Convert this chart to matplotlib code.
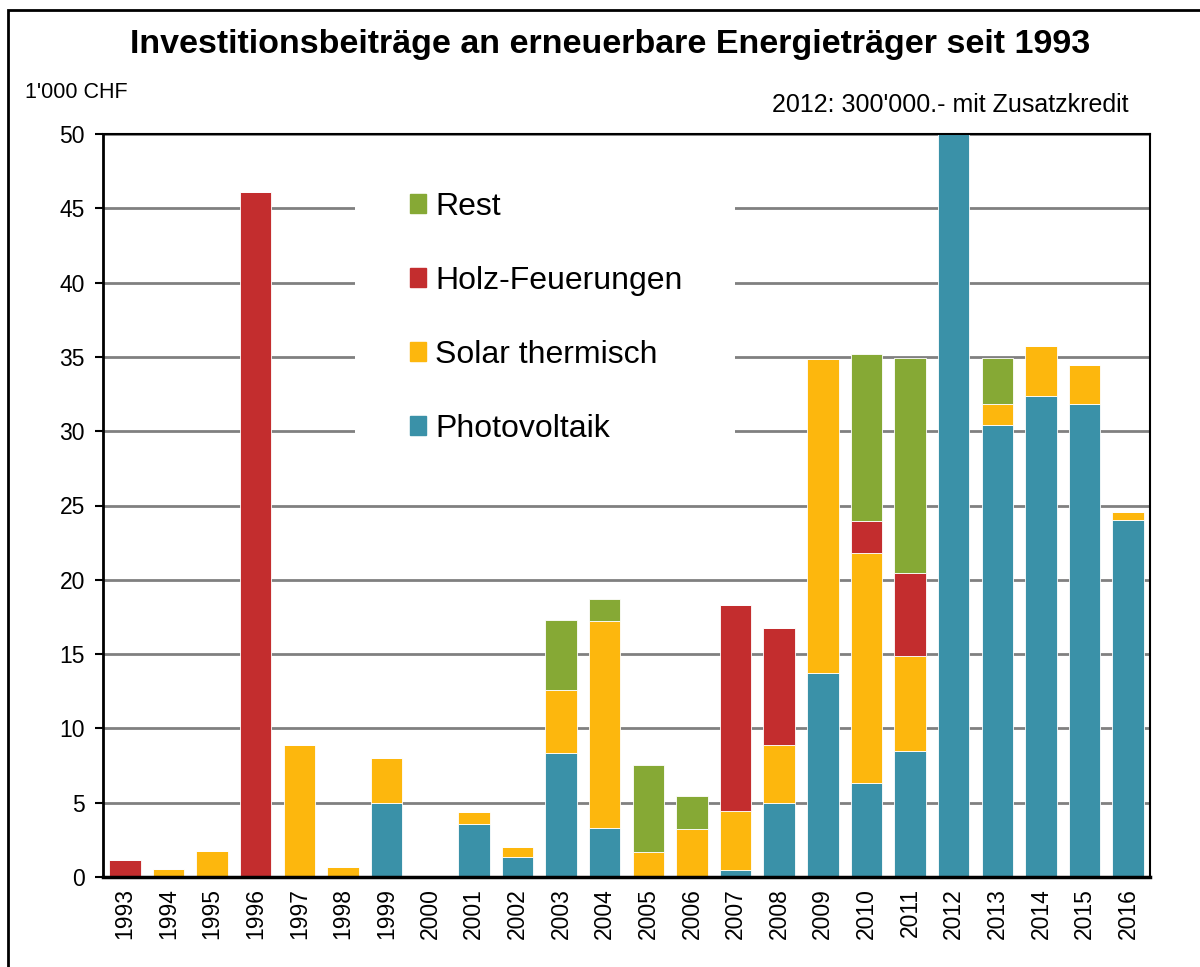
import numpy as np
from matplotlib import pyplot as plt
from matplotlib.patches import Rectangle

plt.rcParams['font.family'] = ['Liberation Sans', 'DejaVu Sans']

years = [str(y) for y in range(1993, 2017)]
# values in 1'000 CHF (2012 is clipped at 50)
photovoltaik = [0, 0, 0, 0, 0, 0, 5.0, 0, 3.6, 1.35, 8.35, 3.3, 0, 0, 0.45, 4.95,
                13.75, 6.3, 8.45, 300, 30.4, 32.4, 31.8, 24.0]
solar = [0, 0.55, 1.75, 0, 8.85, 0.7, 3.0, 0, 0.75, 0.65, 4.25, 13.9, 1.7, 3.2, 4.0, 3.95,
         21.1, 15.5, 6.4, 0, 1.4, 3.35, 2.65, 0.55]
holz = [1.15, 0, 0, 46.1, 0, 0, 0, 0, 0, 0, 0, 0, 0, 0, 13.85, 7.85,
        0, 2.15, 5.6, 0, 0, 0, 0, 0]
rest = [0, 0, 0, 0, 0, 0, 0, 0, 0, 0, 4.7, 1.5, 5.85, 2.25, 0, 0,
        0, 11.25, 14.45, 0, 3.1, 0, 0, 0]

col_pv = '#3A91A8'
col_solar = '#FDB70D'
col_holz = '#C32D2E'
col_rest = '#86A935'

fig = plt.figure(figsize=(12, 9.67), dpi=100)
ax = fig.add_axes([103 / 1200, 1 - 877 / 967, 1047 / 1200, 743 / 967])

x = np.arange(len(years))
w = 0.72
pv = np.array(photovoltaik)
so = np.array(solar)
ho = np.array(holz)
re = np.array(rest)
kw = dict(width=w, edgecolor='white', linewidth=0.6, zorder=2)
ax.bar(x, pv, color=col_pv, label='Photovoltaik', **kw)
ax.bar(x, so, bottom=pv, color=col_solar, label='Solar thermisch', **kw)
ax.bar(x, ho, bottom=pv + so, color=col_holz, label='Holz-Feuerungen', **kw)
ax.bar(x, re, bottom=pv + so + ho, color=col_rest, label='Rest', **kw)

ax.set_xlim(-0.5, len(years) - 0.5)
ax.set_ylim(0, 50)
ax.set_yticks(range(0, 51, 5))
ax.set_xticks(x)
ax.set_xticklabels(years, rotation=90)
ax.tick_params(axis='y', labelsize=16.5, length=6, width=1.5, pad=7)
ax.tick_params(axis='x', labelsize=16.5, length=0, pad=8)

ax.set_axisbelow(True)
ax.yaxis.grid(True, color='#808080', linewidth=2)
for s in ax.spines.values():
    s.set_color('black')
    s.set_linewidth(1.5)
ax.spines['left'].set_linewidth(2)
ax.spines['bottom'].set_linewidth(2.5)

# white box behind the legend hides the grid lines
ax.add_patch(Rectangle(((355 - 103) / 1047, (877 - 470) / 743), 380 / 1047, 300 / 743,
                       transform=ax.transAxes, facecolor='white', edgecolor='none', zorder=1))

handles = [Rectangle((0, 0), 1, 1, color=c) for c in [col_rest, col_holz, col_solar, col_pv]]
labels = ['Rest', 'Holz-Feuerungen', 'Solar thermisch', 'Photovoltaik']
ax.legend(handles, labels, loc='upper left', bbox_to_anchor=(381 / 1200, 1 - 163 / 967),
          bbox_transform=fig.transFigure, frameon=False, fontsize=23,
          handlelength=0.52, handleheight=0.52, handletextpad=0.28, labelspacing=1.38)

fig.text(610 / 1200, 1 - 45 / 967, 'Investitionsbeiträge an erneuerbare Energieträger seit 1993',
         ha='center', va='center', fontsize=24.5, fontweight='bold')
fig.text(25 / 1200, 1 - 92 / 967, "1'000 CHF", ha='left', va='center', fontsize=15.5)
fig.text(1128 / 1200, 1 - 105 / 967, "2012: 300'000.- mit Zusatzkredit",
         ha='right', va='center', fontsize=18)

# outer frame
fig.patches.append(Rectangle((8 / 1200, -0.1), 1.2, 1 - 10 / 967 + 0.1, transform=fig.transFigure,
                             facecolor='none', edgecolor='black', linewidth=2, zorder=0))

fig.savefig('out.png', dpi=100)
